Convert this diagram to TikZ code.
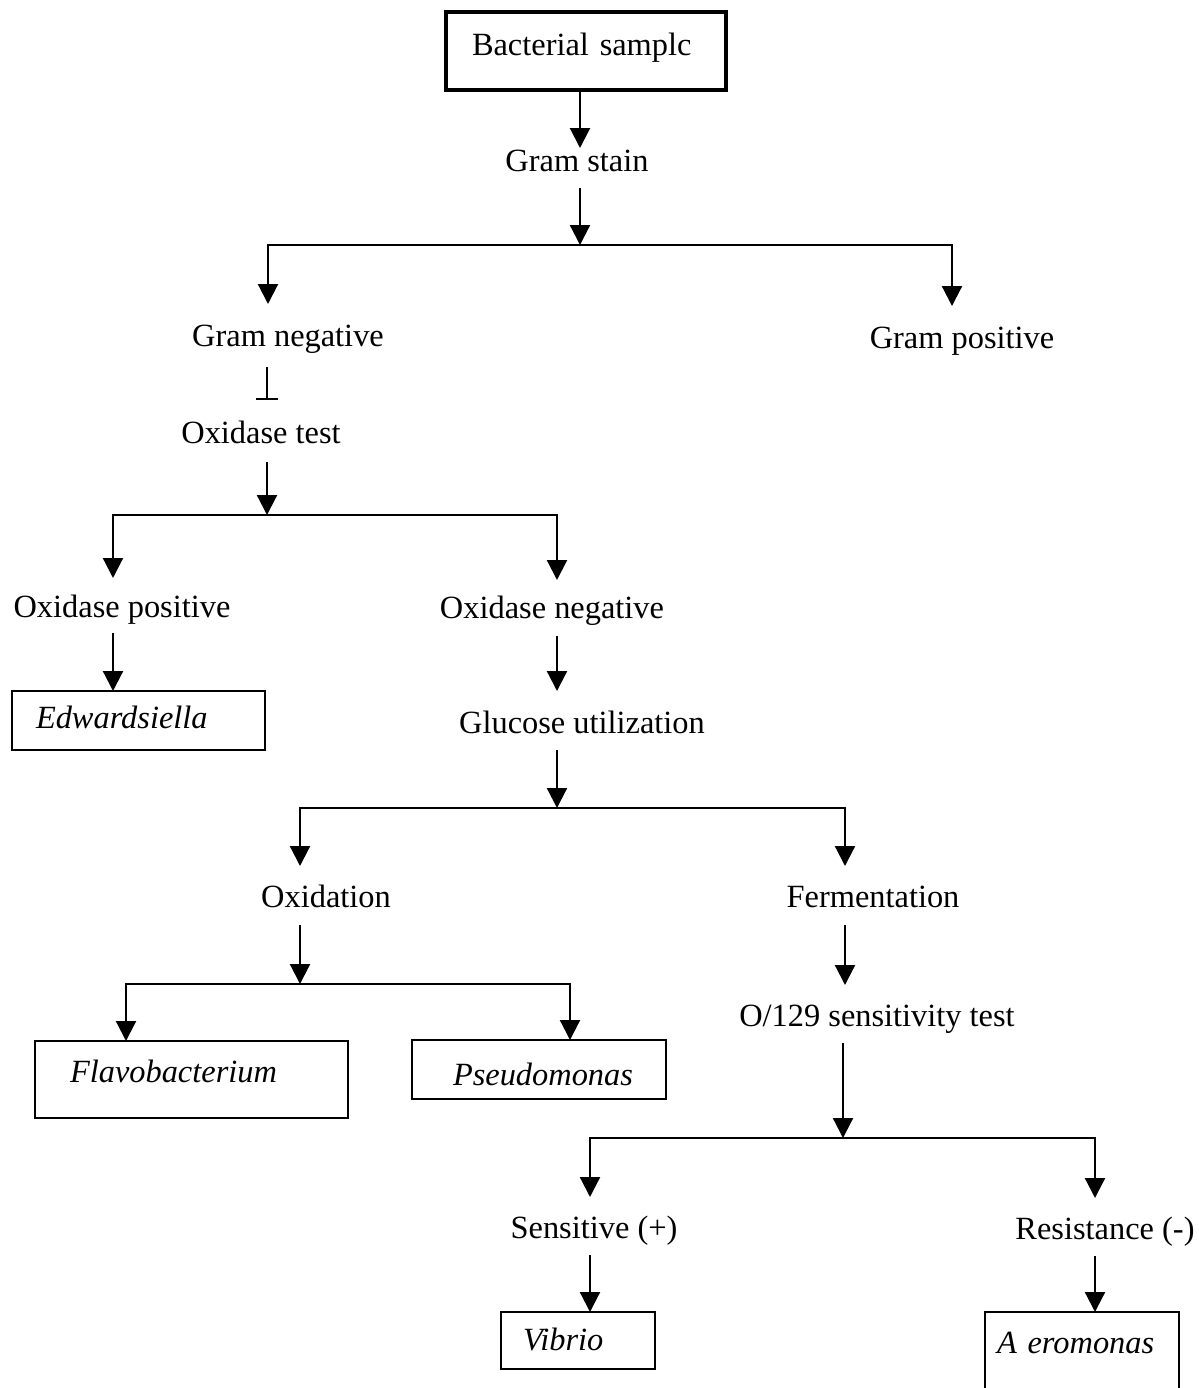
\documentclass[tikz,border=0pt]{standalone}
\usepackage{fontspec}
\setmainfont{Liberation Serif}
\usetikzlibrary{arrows.meta}
\newcommand\fs{\fontsize{16.2}{19}\selectfont}
\begin{document}
\begin{tikzpicture}[x=0.5pt,y=-0.5pt,
  lbl/.style={font=\fs, inner sep=0pt, outer sep=0pt, text height=11pt, text depth=3.5pt, anchor=base},
  box/.style={draw, line width=1pt, font=\fs\itshape, inner ysep=0pt, outer sep=0pt, align=left, anchor=north west},
  arr/.style={line width=1.1pt, -{Triangle[length=10pt,width=10pt]}},
  barend/.style={line width=1.1pt, -{Bar[width=11pt,line width=1.1pt]}}]
\fill[white] (0,0) rectangle (1199,1388);
\useasboundingbox (0,0) rectangle (1199,1388);

% boxes
\node[box, line width=1.8pt, font=\fs, inner xsep=13pt, text width=114pt, text height=21.5pt, text depth=17.5pt] (bs) at (446,12) {Bacterial samplc};
\node[box, inner xsep=12pt, text width=102.5pt, text height=18.5pt, text depth=11pt] (ed) at (12,691) {Edwardsiella};
\node[box, inner xsep=17.5pt, text width=121.5pt, text height=20.5pt, text depth=18pt] (fl) at (35,1041) {Flavobacterium};
\node[box, inner xsep=20.5pt, text width=86pt, text height=22.5pt, text depth=7pt] (ps) at (412,1040) {Pseudomonas};
\node[box, inner xsep=11pt, text width=55pt, text height=19pt, text depth=9.5pt] (vi) at (501,1312) {Vibrio};
\node[box, draw=none, inner xsep=6pt, text width=85pt, text height=20.5pt, text depth=24pt] (ae) at (985,1312) {A eromonas};
\draw[line width=1pt] (ae.south west) -- (ae.north west) -- (ae.north east) -- (ae.south east);

% labels
\node[lbl] (gs) at (577,171) {Gram stain};
\node[lbl] (gn) at (288,346) {Gram negative};
\node[lbl] (gp) at (962,348) {Gram positive};
\node[lbl] (ot) at (261,443) {Oxidase test};
\node[lbl] (op) at (122,617) {Oxidase positive};
\node[lbl] (on) at (552,618) {Oxidase negative};
\node[lbl] (gu) at (582,733) {Glucose utilization};
\node[lbl] (ox) at (326,907) {Oxidation};
\node[lbl] (fe) at (873,907) {Fermentation};
\node[lbl] (oo) at (877,1026) {O/129 sensitivity test};
\node[lbl] (se) at (594,1238) {Sensitive (+)};
\node[lbl] (re) at (1105,1239) {Resistance (-)};

% junctions
\coordinate (b1in) at (580,245); \coordinate (b1L) at (268,245); \coordinate (b1R) at (952,245);
\coordinate (b2in) at (267,515); \coordinate (b2L) at (113,515); \coordinate (b2R) at (557,515);
\coordinate (b3in) at (557,808); \coordinate (b3L) at (300,808); \coordinate (b3R) at (845,808);
\coordinate (b4in) at (300,984); \coordinate (b4L) at (126,984); \coordinate (b4R) at (570,984);
\coordinate (b5in) at (843,1138); \coordinate (b5L) at (590,1138); \coordinate (b5R) at (1095,1138);

% connectors
\draw[arr] (bs.south -| b1in) -- ([yshift=0.5pt]gs.north -| b1in);
\draw[arr] ([yshift=-5pt]gs.south -| b1in) -- (b1in);
\draw[arr] (b1in) -| ([yshift=10pt]gn.north -| b1L);
\draw[arr] (b1in) -| ([yshift=10pt]gp.north -| b1R);
\draw[barend] ([yshift=-7pt]gn.south -| b2in) -- ([yshift=10.5pt]ot.north -| b2in);
\draw[arr] ([yshift=-6pt]ot.south -| b2in) -- (b2in);
\draw[arr] (b2in) -| ([yshift=8.5pt]op.north -| b2L);
\draw[arr] (b2in) -| ([yshift=8pt]on.north -| b2R);
\draw[arr] ([yshift=-4.5pt]op.south -| b2L) -- (ed.north -| b2L);
\draw[arr] ([yshift=-5.5pt]on.south -| b2R) -- ([yshift=10pt]gu.north -| b2R);
\draw[arr] ([yshift=-5pt]gu.south -| b3in) -- (b3in);
\draw[arr] (b3in) -| ([yshift=9.5pt]ox.north -| b3L);
\draw[arr] (b3in) -| ([yshift=9.5pt]fe.north -| b3R);
\draw[arr] ([yshift=-5.5pt]ox.south -| b4in) -- (b4in);
\draw[arr] (b4in) -| (fl.north -| b4L);
\draw[arr] (b4in) -| (ps.north -| b4R);
\draw[arr] ([yshift=-5.5pt]fe.south -| b3R) -- ([yshift=9.5pt]oo.north -| b3R);
\draw[arr] ([yshift=-5pt]oo.south -| b5in) -- (b5in);
\draw[arr] (b5in) -| ([yshift=9.5pt]se.north -| b5L);
\draw[arr] (b5in) -| ([yshift=9.5pt]re.north -| b5R);
\draw[arr] ([yshift=-5pt]se.south -| b5L) -- (vi.north -| b5L);
\draw[arr] ([yshift=-5pt]re.south -| b5R) -- (ae.north -| b5R);
\end{tikzpicture}
\end{document}
